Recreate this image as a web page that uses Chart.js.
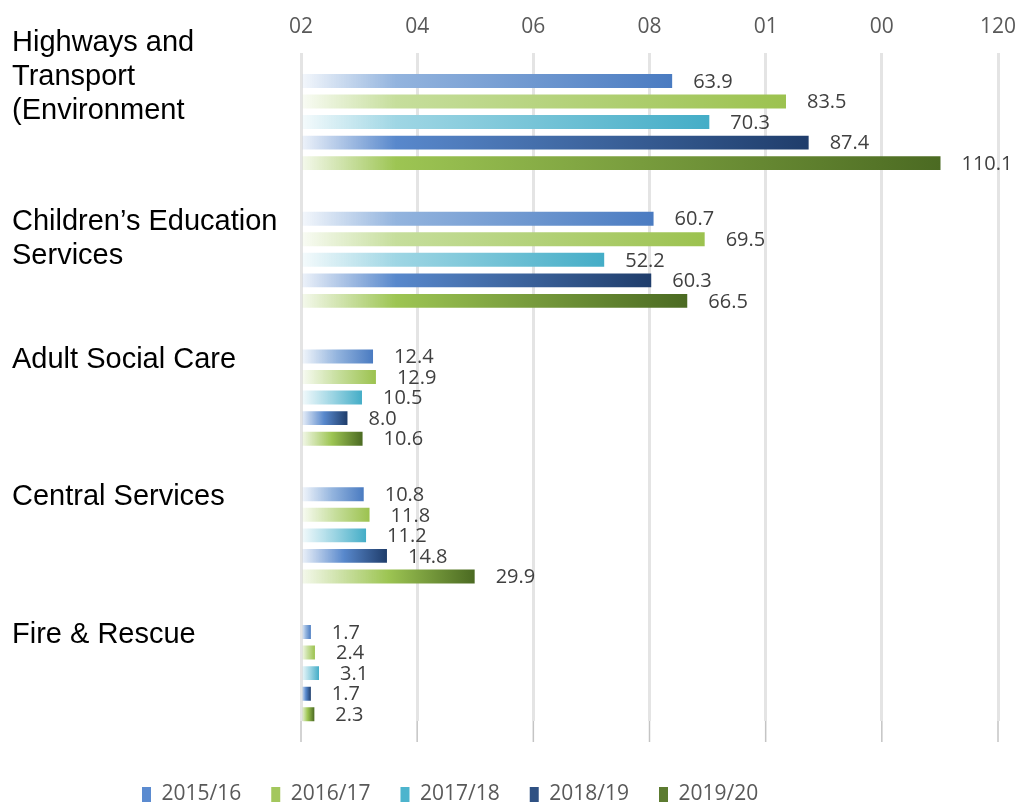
<!DOCTYPE html>
<html>
<head>
<meta charset="UTF-8">
<script src="https://cdn.jsdelivr.net/npm/chart.js"></script>
<style>
  html, body { margin: 0; padding: 0; background: #fff; }
  #wrap { width: 1017px; height: 803px; position: relative; }
</style>
</head>
<body>
<div id="wrap"><canvas id="grafica"></canvas></div>
<script>
// categories (multi-line labels) and values per year
const categories = [
  ["Highways and", "Transport", "(Environment"],
  ["Children\u2019s Education", "Services"],
  ["Adult Social Care"],
  ["Central Services"],
  ["Fire & Rescue"]
];
const years = ["2015/16", "2016/17", "2017/18", "2018/19", "2019/20"];
const values1516 = [63.9, 60.7, 12.4, 10.8, 1.7];
const values1617 = [83.5, 69.5, 12.9, 11.8, 2.4];
const values1718 = [70.3, 52.2, 10.5, 11.2, 3.1];
const values1819 = [87.4, 60.3, 8.0, 14.8, 1.7];
const values1920 = [110.1, 66.5, 10.6, 29.9, 2.3];
const tickLabels = ["02", "04", "06", "08", "01", "00", "120"];

const seriesValues = [values1516, values1617, values1718, values1819, values1920];
// gradient stops: faded start, light middle, strong end
const gradStops = [
  ["rgba(147,180,222,0.1)", "#93b4de", "#4a7bc1"],
  ["rgba(198,222,156,0.1)", "#c6de9c", "#9cc24f"],
  ["rgba(159,214,228,0.1)", "#9fd6e4", "#44adc7"],
  ["rgba(88,136,204,0.1)", "#5888cc", "#1f3d6b"],
  ["rgba(157,197,83,0.1)", "#9dc553", "#4b6a22"]
];
const legendColors = ["#5b8bd0", "#a3c75d", "#4db4cd", "#2f5183", "#5c7b30"];

function barGradient(c, i) {
  const chart = c.chart;
  const xs = chart.scales.x;
  if (!xs || !chart.chartArea || c.raw == null) return legendColors[i];
  const x0 = xs.getPixelForValue(0);
  const x1 = xs.getPixelForValue(c.raw);
  if (!isFinite(x0) || !isFinite(x1) || x1 - x0 < 1) return legendColors[i];
  const g = chart.ctx.createLinearGradient(x0, 0, x1, 0);
  const len = x1 - x0;
  const mid = Math.min(0.5, 95 / len);
  g.addColorStop(0, gradStops[i][0]);
  g.addColorStop(mid, gradStops[i][1]);
  g.addColorStop(1, gradStops[i][2]);
  return g;
}

const datasets = years.map((y, i) => ({
  label: y,
  data: seriesValues[i],
  backgroundColor: (c) => barGradient(c, i),
  borderWidth: 0,
  categoryPercentage: 0.745,
  barPercentage: 0.68
}));

// value labels right of each bar
const valueLabels = {
  id: "valueLabels",
  afterDatasetsDraw(chart) {
    const ctx = chart.ctx;
    ctx.save();
    ctx.font = "20px 'Open Sans', sans-serif";
    ctx.fillStyle = "#404040";
    ctx.textAlign = "left";
    ctx.textBaseline = "middle";
    chart.data.datasets.forEach((ds, di) => {
      chart.getDatasetMeta(di).data.forEach((bar, idx) => {
        ctx.fillText(ds.data[idx].toFixed(1), bar.x + 21, bar.y + 1);
      });
    });
    ctx.restore();
  }
};

// category names on the left, aligned with the first bar of each group
const categoryNames = {
  id: "categoryNames",
  afterDraw(chart) {
    const ctx = chart.ctx;
    const ys = chart.scales.y;
    const band = (ys.bottom - ys.top) / categories.length;
    const step = band * 0.745 / years.length;
    ctx.save();
    ctx.font = "29px 'Liberation Sans', Arial, sans-serif";
    ctx.fillStyle = "#000";
    ctx.textAlign = "left";
    ctx.textBaseline = "middle";
    categories.forEach((lines, i) => {
      const firstBar = ys.getPixelForValue(i) - 2 * step;
      const lift = Math.max(0, lines.length - 2) * 41;
      lines.forEach((ln, k) => {
        ctx.fillText(ln, 12, firstBar + 3 - lift + k * 34);
      });
    });
    ctx.restore();
  }
};

// darker short tick marks at the foot of each grid line
const footTicks = {
  id: "footTicks",
  beforeDatasetsDraw(chart) {
    const ctx = chart.ctx;
    const xs = chart.scales.x;
    const bottom = chart.chartArea.bottom;
    ctx.save();
    xs.ticks.forEach((t, i) => {
      const px = xs.getPixelForTick(i);
      ctx.strokeStyle = "#fff";
      ctx.lineWidth = 4;
      ctx.beginPath(); ctx.moveTo(px, bottom - 21); ctx.lineTo(px, bottom); ctx.stroke();
      ctx.strokeStyle = "#c4c4c4";
      ctx.lineWidth = 1.5;
      ctx.beginPath(); ctx.moveTo(px, bottom - 21); ctx.lineTo(px, bottom); ctx.stroke();
    });
    ctx.restore();
  }
};

// push the legend row a little lower than Chart.js places it
const legendShift = {
  id: "legendShift",
  afterLayout(chart) {
    if (chart.legend) {
      chart.legend.top += 12;
      chart.legend.bottom += 12;
    }
  }
};

new Chart(document.getElementById("grafica"), {
  type: "bar",
  data: { labels: categories, datasets },
  plugins: [valueLabels, categoryNames, footTicks, legendShift],
  options: {
    indexAxis: "y",
    responsive: true,
    maintainAspectRatio: false,
    animation: false,
    layout: { padding: { left: 112, right: 19, top: 0, bottom: 0 } },
    scales: {
      x: {
        position: "top",
        min: 0,
        max: 120,
        border: { display: false },
        grid: { color: "#e4e4e4", lineWidth: 3, drawTicks: false },
        ticks: {
          stepSize: 20,
          padding: 14,
          color: "#595959",
          font: { family: "'Open Sans', sans-serif", size: 21 },
          callback: (v, idx) => tickLabels[idx]
        },
        afterFit: (scale) => { scale.paddingLeft = 0; scale.paddingRight = 0; }
      },
      y: {
        border: { display: false },
        grid: { display: false },
        ticks: { display: false },
        afterFit: (scale) => { scale.width = 189; }
      }
    },
    plugins: {
      tooltip: { enabled: false },
      legend: {
        position: "bottom",
        align: "start",
        labels: {
          boxWidth: 9,
          boxHeight: 15,
          padding: 30,
          color: "#595959",
          font: { family: "'Open Sans', sans-serif", size: 21 },
          generateLabels: (chart) => years.map((y, i) => ({
            text: y,
            fillStyle: legendColors[i],
            strokeStyle: legendColors[i],
            lineWidth: 0,
            fontColor: "#595959",
            datasetIndex: i
          }))
        }
      }
    }
  }
});
</script>
</body>
</html>
